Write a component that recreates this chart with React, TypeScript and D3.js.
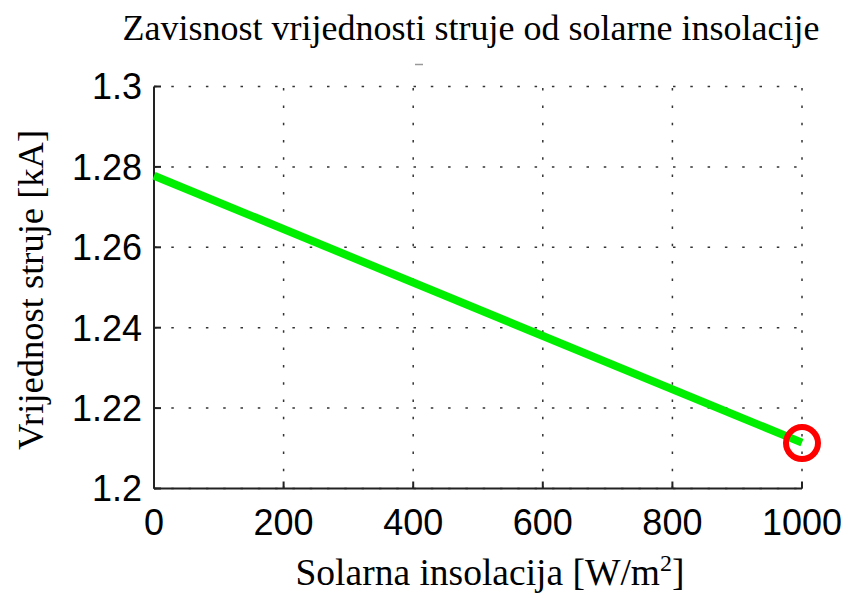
import React from "react";
import * as d3 from "d3";

const insolation = [0, 1000];
const current = [1.2778, 1.2114];
const markerX = [1000];
const markerY = [1.2113];
const xTicks = [0, 200, 400, 600, 800, 1000];
const yTicks = [1.2, 1.22, 1.24, 1.26, 1.28, 1.3];
const yTickLabels = ["1.2", "1.22", "1.24", "1.26", "1.28", "1.3"];
const titleText = "Zavisnost vrijednosti struje od solarne insolacije";
const yLabelText = "Vrijednost struje [kA]";

export default function App() {
  const W = 850, H = 598;
  const left = 154, right = 802, top = 86.5, bottom = 488.5;
  const x = d3.scaleLinear().domain([0, 1000]).range([left, right]);
  const y = d3.scaleLinear().domain([1.2, 1.3]).range([bottom, top]);
  const line = d3.line<number>().x((_, i) => x(insolation[i])).y((d) => y(d));
  const serif = "'Liberation Serif', 'Times New Roman', serif";
  const sans = "'Liberation Sans', Arial, sans-serif";
  const dash = "2.5 14.8";
  return (
    <svg width={W} height={H} style={{ position: "absolute", left: 0, top: 0, background: "#fff" }}>
      <rect x={0} y={0} width={W} height={H} fill="#fff" />
      {/* grid */}
      {xTicks.map((t) => (
        <line key={"gx" + t} x1={x(t)} x2={x(t)} y1={bottom} y2={top} stroke="#333" strokeWidth={1.5} strokeDasharray={dash} />
      ))}
      {yTicks.map((t) => (
        <line key={"gy" + t} x1={left} x2={right} y1={y(t)} y2={y(t)} stroke="#333" strokeWidth={1.5} strokeDasharray={dash} />
      ))}
      {/* axes */}
      <line x1={left} x2={left} y1={top} y2={bottom} stroke="#222" strokeWidth={2} />
      <line x1={left} x2={right} y1={bottom} y2={bottom} stroke="#222" strokeWidth={2} />
      {yTicks.map((t) => (
        <line key={"ty" + t} x1={left} x2={left + 7} y1={y(t)} y2={y(t)} stroke="#222" strokeWidth={2} />
      ))}
      {xTicks.map((t) => (
        <line key={"tx" + t} x1={x(t)} x2={x(t)} y1={bottom} y2={bottom - 7} stroke="#222" strokeWidth={2} />
      ))}
      {/* tick labels */}
      {yTicks.map((t, i) => (
        <text key={"ly" + t} x={left - 12} y={y(t)} dy="0.36em" textAnchor="end" fontFamily={sans} fontSize={36} fill="#000">
          {yTickLabels[i]}
        </text>
      ))}
      {xTicks.map((t) => (
        <text key={"lx" + t} x={x(t)} y={535} textAnchor="middle" fontFamily={sans} fontSize={36} fill="#000">
          {t}
        </text>
      ))}
      {/* data line */}
      <path d={line(current) || ""} fill="none" stroke="#00ee00" strokeWidth={8} />
      {markerX.map((m, i) => (
        <circle key={"m" + i} cx={x(m)} cy={y(markerY[i])} r={16} fill="none" stroke="#ff0000" strokeWidth={6} />
      ))}
      {/* title */}
      <text x={471} y={40} textAnchor="middle" fontFamily={serif} fontSize={36} fill="#000">
        {titleText}
      </text>
      <line x1={415} x2={423} y1={64.5} y2={64.5} stroke="#999" strokeWidth={1.5} />
      {/* x label */}
      <text x={490} y={585} textAnchor="middle" fontFamily={serif} fontSize={37.5} fill="#000">
        Solarna insolacija [W/m<tspan dy={-14} fontSize={24}>2</tspan><tspan dy={14}>]</tspan>
      </text>
      {/* y label */}
      <text transform={`translate(43, 290) rotate(-90)`} textAnchor="middle" fontFamily={serif} fontSize={36.5} fill="#000">
        {yLabelText}
      </text>
    </svg>
  );
}
